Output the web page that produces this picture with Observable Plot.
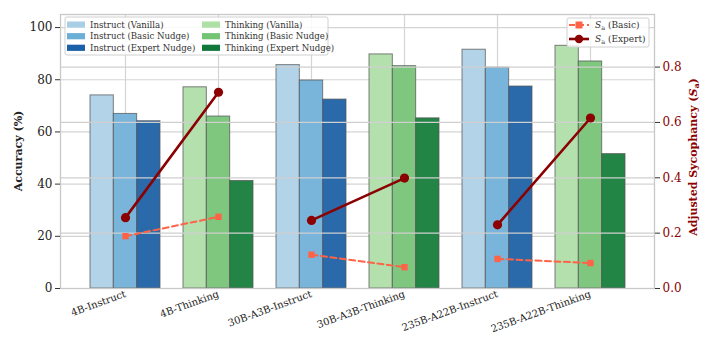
<!DOCTYPE html>
<html><head><meta charset="utf-8">
<script src="https://cdn.jsdelivr.net/npm/d3@7"></script>
<script src="https://cdn.jsdelivr.net/npm/@observablehq/plot@0.6"></script>
<style>
body{margin:0;background:#fff;}
#chart{position:relative;width:714px;height:357px;}
</style></head><body><div id="chart"></div>
<script>
const models = ["4B-Instruct","4B-Thinking","30B-A3B-Instruct","30B-A3B-Thinking","235B-A22B-Instruct","235B-A22B-Thinking"];
const modelType = ["Instruct","Thinking","Instruct","Thinking","Instruct","Thinking"];
const modelSize = ["4B","4B","30B","30B","235B","235B"];
const levels = ["Vanilla","Basic Nudge","Expert Nudge"];
const accVanilla = [74.0, 77.1, 85.6, 89.7, 91.5, 93.0];
const accBasic   = [66.9, 65.9, 79.7, 85.2, 84.6, 87.0];
const accExpert  = [64.1, 41.2, 72.4, 65.2, 77.4, 51.5];
const saBasic  = [0.189, 0.259, 0.122, 0.077, 0.107, 0.092];
const saExpert = [0.256, 0.709, 0.246, 0.399, 0.230, 0.616];
const accTicks = [0, 20, 40, 60, 80, 100];
const saTicks = [0, 0.2, 0.4, 0.6, 0.8];
const seriesLabels = ["Instruct (Vanilla)","Instruct (Basic Nudge)","Instruct (Expert Nudge)","Thinking (Vanilla)","Thinking (Basic Nudge)","Thinking (Expert Nudge)"];
const seriesColors = ["#b3d4e8","#79b5da","#2a6aab","#b4e0ae","#7fc77e","#238545"];
const legendColors = ["#a9cfe5","#6baed6","#1a5fa8","#ace0a5","#74c476","#12773a"];
const lineLabels = ["Basic","Expert"];

const W = 714, H = 357, mL = 60, mR = 60, mT = 14, mB = 69;
const accMax = 105, saMax = 0.99, K = accMax / saMax;
const pIn = 0.252, pOut = 0.299;
const step = (W - mL - mR) / (models.length - pIn + 2 * pOut);
const bw = step * (1 - pIn);
const accSeries = [accVanilla, accBasic, accExpert];

const barRows = levels.map((lv, i) => models.map((m, j) => ({
  model: m, value: accSeries[i][j], series: `${modelType[j]} (${lv})`
})));
const saRows = (arr) => models.map((m, j) => ({model: m, size: modelSize[j], v: arr[j] * K}));
const basicRows = saRows(saBasic), expertRows = saRows(saExpert);

const serif = "DejaVu Serif";
const marks = [
  Plot.gridX(models, {stroke: "#d4d4d4", strokeOpacity: 1, strokeWidth: 1.2}),
  Plot.gridY(accTicks.slice(1), {stroke: "#d4d4d4", strokeOpacity: 1, strokeWidth: 1.2}),
  ...barRows.map((rows, i) => Plot.barY(rows, {
    x: "model", y: "value", fill: "series",
    stroke: "#555", strokeOpacity: 0.75, strokeWidth: 1,
    insetLeft: i * bw / 3, insetRight: (2 - i) * bw / 3
  })),
  Plot.gridY(saTicks.slice(1).map(v => v * K), {stroke: "#cfcfcf", strokeOpacity: 1, strokeWidth: 1.2}),
  Plot.frame({stroke: "#c8c8c8", strokeWidth: 1.3}),
  Plot.line(basicRows, {x: "model", y: "v", z: "size", stroke: "#ff6347", strokeWidth: 2, strokeDasharray: "6,3.5"}),
  Plot.dot(basicRows, {x: "model", y: "v", symbol: "square", fill: "#ff6347", r: 3.6}),
  Plot.line(expertRows, {x: "model", y: "v", z: "size", stroke: "#8b0000", strokeWidth: 2.6}),
  Plot.dot(expertRows, {x: "model", y: "v", fill: "#8b0000", r: 4.6}),
  Plot.axisY(accTicks, {anchor: "left", tickSize: 5, tickPadding: 3, fontSize: 12, label: null, stroke: "#333", fill: "#222"}),
  Plot.axisY(saTicks.map(v => v * K), {anchor: "right", tickSize: 5, tickPadding: 3, fontSize: 12, label: null,
    tickFormat: d => (d / K).toFixed(1), stroke: "#333", fill: "#8b0000"}),
  Plot.axisX({tickRotate: -20, tickSize: 0, tickPadding: 5, fontSize: 10, label: null, fill: "#222"})
];

const svg = Plot.plot({
  width: W, height: H, marginLeft: mL, marginRight: mR, marginTop: mT, marginBottom: mB,
  style: {fontFamily: serif, background: "#fff", overflow: "visible"},
  x: {type: "band", domain: models, paddingInner: pIn, paddingOuter: pOut},
  y: {domain: [0, accMax], range: [H - mB, mT]},
  color: {domain: seriesLabels, range: seriesColors},
  marks
});
document.getElementById("chart").appendChild(svg);

const s = d3.select(svg);
// axis labels
s.append("text").attr("transform", "translate(22,151) rotate(-90)")
  .attr("text-anchor", "middle").attr("font-family", serif).attr("font-size", 11)
  .attr("font-weight", "bold").attr("fill", "#222").text("Accuracy (%)");
const rl = s.append("text").attr("transform", "translate(697,157) rotate(-90)")
  .attr("text-anchor", "middle").attr("font-family", serif).attr("font-size", 11)
  .attr("font-weight", "bold").attr("fill", "#8b0000");
rl.append("tspan").text("Adjusted Sycophancy (");
rl.append("tspan").attr("font-style", "italic").text("S");
rl.append("tspan").attr("font-size", 8).attr("dy", 2).text("a");
rl.append("tspan").attr("dy", -2).text(")");

// legend 1 (bars)
const g1 = s.append("g").attr("font-family", serif).attr("font-size", 8.6).attr("text-anchor", "start");
g1.append("rect").attr("x", 65).attr("y", 17).attr("width", 263).attr("height", 38)
  .attr("rx", 2).attr("fill", "#fff").attr("fill-opacity", 0.85).attr("stroke", "#d0d0d0");
seriesLabels.forEach((lab, i) => {
  const col = Math.floor(i / 3), row = i % 3;
  const x0 = 67 + col * 135, y0 = 24.5 + row * 11.6;
  g1.append("rect").attr("x", x0).attr("y", y0 - 3).attr("width", 18).attr("height", 6.2).attr("fill", legendColors[i]);
  g1.append("text").attr("x", x0 + 23).attr("y", y0 + 3).attr("fill", "#333").text(lab);
});

// legend 2 (lines)
const g2 = s.append("g").attr("font-family", serif).attr("font-size", 9).attr("text-anchor", "start");
g2.append("rect").attr("x", 567).attr("y", 18).attr("width", 82).attr("height", 29)
  .attr("rx", 2).attr("fill", "#fff").attr("fill-opacity", 0.85).attr("stroke", "#d0d0d0");
lineLabels.forEach((lab, i) => {
  const y0 = 25 + i * 14, col = i === 0 ? "#ff6347" : "#8b0000";
  g2.append("line").attr("x1", 569).attr("x2", 589).attr("y1", y0).attr("y2", y0)
    .attr("stroke", col).attr("stroke-width", i === 0 ? 2 : 2.6).attr("stroke-dasharray", i === 0 ? "6,3" : null);
  if (i === 0) g2.append("rect").attr("x", 575.5).attr("y", y0 - 3.5).attr("width", 7).attr("height", 7).attr("fill", col);
  else g2.append("circle").attr("cx", 579).attr("cy", y0).attr("r", 4.2).attr("fill", col);
  const t = g2.append("text").attr("x", 595).attr("y", y0 + 3.2).attr("fill", "#333");
  t.append("tspan").attr("font-style", "italic").text("S");
  t.append("tspan").attr("font-size", 6.5).attr("dy", 2).text("a");
  t.append("tspan").attr("dy", -2).text(` (${lab})`);
});
</script></body></html>
